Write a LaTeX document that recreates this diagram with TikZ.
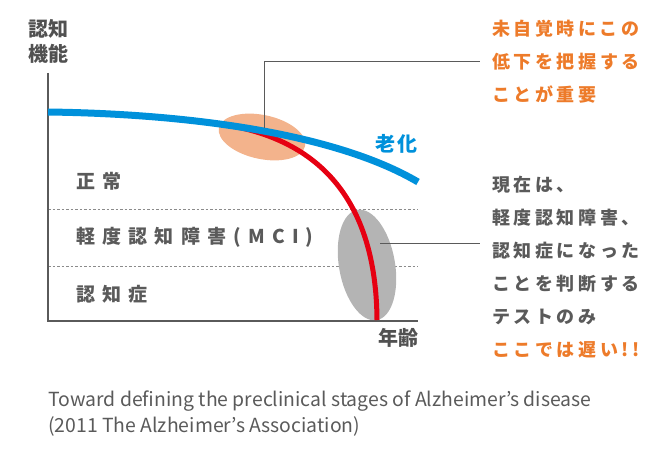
\documentclass[tikz,border=0pt]{standalone}
\usepackage{fontspec}
\usepackage{tikz}
\setmainfont{Noto Sans CJK JP}
\definecolor{aging}{HTML}{0091DB}
\definecolor{decline}{HTML}{E60012}
\definecolor{early}{HTML}{F3B38C}
\definecolor{late}{HTML}{B4B4B4}
\definecolor{accent}{HTML}{ED7B2A}
\definecolor{ink}{HTML}{5A5A5A}
\def\stagefont{\fontsize{19}{19}\selectfont\bfseries\addfontfeature{LetterSpace=38}}
\def\notefont{\fontsize{18}{33}\selectfont\bfseries\addfontfeature{LetterSpace=20}}
\tikzset{
  axis/.style={draw=ink, line width=1.5pt},
  border/.style={draw=ink!70, line width=0.8pt, dash pattern=on 2.5pt off 2pt},
  callout/.style={draw=ink, line width=1pt},
  stage/.style={anchor=west, inner sep=0pt, text=ink, font=\stagefont},
  note/.style={anchor=west, inner sep=0pt, align=left, font=\notefont},
}
\begin{document}
\begin{tikzpicture}[x=1pt,y=1pt]
        \useasboundingbox (0,0) rectangle (670,456);
        % stage borders
        \foreach \y in {247,190}{
        \draw[border] (48,\y) -- (418,\y);
        }
        \fill[late, rotate around={10:(367,191)}] (367,191) ellipse [x radius=28, y radius=56];
        \fill[early, rotate around={-12:(262,319)}] (262,319) ellipse [x radius=44, y radius=22];
        \coordinate (top) at (48,383);
        \coordinate (o) at (48,135);
        \coordinate (right) at (418,135);
        \draw[axis] (top) -- (o) -- (right);
        % curves
        \draw[decline, line width=5pt] (48,344) .. controls (108.8,343.2) and (167.7,339.2) .. (221.5,331.8)
              .. controls (300,320) and (376,275) .. (377,136);
        \draw[aging, line width=7pt] (48,344) .. controls (200,342) and (340,320) .. (418,274);
        % callouts
        \coordinate (earlyspot) at (264,328);
        \coordinate (latespot) at (380,212);
        \node[note, text=accent] (earlynote) at (492,394) {未自覚時にこの\\低下を把握する\\ことが重要};
        \node[note, text=ink] (latenote) at (492,188.5) {現在は、\\軽度認知障害、\\認知症になった\\ことを判断する\\テストのみ\\\textcolor{accent}{ここでは遅い!!}};
        \coordinate (n1) at ([xshift=-12pt]earlynote.west);
        \coordinate (n2) at (480,212);
        \draw[callout] (earlyspot) |- (n1);
        \draw[callout] (latespot) -- (n2);
        % labels
        \node[align=center, inner sep=0pt, text=ink!90!black, font=\fontsize{20}{25}\selectfont\bfseries] (ylab) at (48.5,415) {認知\\機能};
        \node[inner sep=0pt, text=ink!90!black, font=\fontsize{20}{20}\selectfont\bfseries] (xlab) at (398,118) {年齢};
        \node[inner sep=0pt, text=aging, font=\fontsize{20}{20}\selectfont\bfseries\addfontfeature{LetterSpace=10}] (agelab) at (396,312) {老化};
        \node[stage] (normal) at (76,275) {正常};
        \node[stage] (mci) at (76,219) {軽度認知障害(MCI)};
        \node[stage] (dementia) at (76,162) {認知症};
        \node[anchor=north west, inner sep=0pt, align=left, text=ink, font=\fontsize{19.4}{26}\selectfont] (source) at (48,65)
              {Toward defining the preclinical stages of Alzheimer’s disease\\(2011 The Alzheimer’s Association)};
      \end{tikzpicture}
\end{document}
